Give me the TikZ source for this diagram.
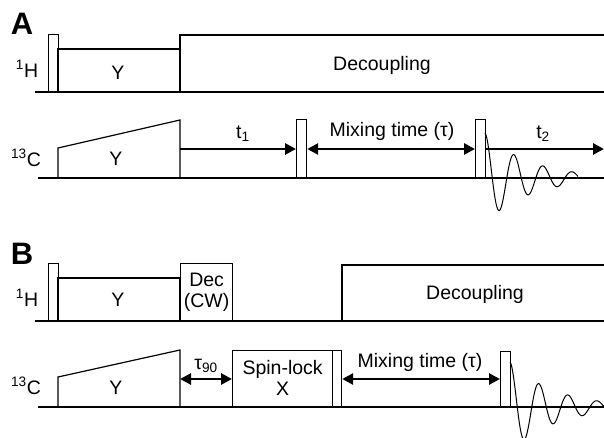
\documentclass[tikz,border=0pt]{standalone}
\usepackage{fontspec}
\setmainfont{Liberation Sans}
\usetikzlibrary{arrows.meta,positioning}

\begin{document}
\begin{tikzpicture}[x=1pt, y=-1pt,
    seq/.style={line width=1.2pt},
    pulse/.style={draw, line width=1.2pt, fill=white, inner sep=0pt, minimum width=10pt, anchor=south west},
    delay/.style={line width=2.7pt, -{Triangle[length=11pt,width=11pt]}},
    twoway/.style={line width=2.7pt, {Triangle[length=11pt,width=11pt]}-{Triangle[length=11pt,width=11pt]}},
    label/.style={font=\fontsize{19.5}{21}\selectfont, inner sep=0pt},
    panel/.style={font=\fontsize{31}{31}\selectfont\bfseries, inner sep=0pt},
    fid/.style={line width=1pt}
]
    \useasboundingbox (0,0) rectangle (604,438);

    % Panel A
    \node[panel] (pa) at (22,24) {A};
    \node[label] (ha) at (27,69) {\textsuperscript{1}H};
    \node[label] (ca) at (26,158) {\textsuperscript{13}C};

    % 1H channel
    \draw[seq] (35,92) -- (604,92);
    \node[pulse, minimum height=57pt] (pa1) at (48,92) {};
    \draw[seq] (58,92) -- (58,49) -- (180,49) -- (180,92);
    \node[label] (ya) at (118,73) {Y};
    \draw[seq] (180,92) -- (180,35) -- (604,35);
    \node[label] (deca) at (382,65) {Decoupling};

    % 13C channel
    \draw[seq] (38,178) -- (604,178);
    \draw[seq] (58,178) -- (58,148) -- (180,120) -- (180,178);
    \node[label] (yca) at (116,159) {Y};
    \node[pulse, minimum height=58pt] (pa2) at (296,178) {};
    \node[pulse, minimum height=58pt] (pa3) at (475,178) {};
    \coordinate (t1s) at (180,149);
    \coordinate (t2e) at (604,149);
    \draw[delay] (t1s) -- (pa2.west |- t1s);
    \draw[twoway] (pa2.east |- t1s) -- (pa3.west |- t1s);
    \draw[delay] (pa3.east |- t1s) -- (t2e);
    \node[label] (t1a) at (243,134) {t\textsubscript{1}};
    \node[label] (mixa) at (392,131) {Mixing time (τ)};
    \node[label] (t2a) at (543,134) {t\textsubscript{2}};
    \coordinate (fida) at (485,178);
    \draw[fid, shift={(fida)}] plot[domain=0:93, samples=160]
        (\x, {-45*exp(-\x/44)*cos(12.4*\x)});

    % Panel B
    \node[panel] (pb) at (22,254) {B};
    \node[label] (hb) at (27,298) {\textsuperscript{1}H};
    \node[label] (cb) at (26,386) {\textsuperscript{13}C};

    % 1H channel
    \draw[seq] (35,321) -- (604,321);
    \node[pulse, minimum height=57pt] (pb1) at (48,321) {};
    \draw[seq] (58,321) -- (58,278) -- (180,278) -- (180,321);
    \node[label] (yb) at (118,300) {Y};
    \node[draw, line width=1.2pt, inner sep=0pt, minimum width=52pt, minimum height=57pt, anchor=south west,
          label, align=center] (cw) at (180,321) {Dec\\(CW)};
    \draw[seq] (342,321) -- (342,265) -- (604,265);
    \node[label] (decb) at (475,294) {Decoupling};

    % 13C channel
    \draw[seq] (38,407) -- (604,407);
    \draw[seq] (58,407) -- (58,377) -- (180,350) -- (180,407);
    \node[label] (ycb) at (116,388) {Y};
    \node[draw, line width=1.2pt, inner sep=0pt, minimum width=100pt, minimum height=56pt, anchor=south west,
          label, align=center] (lock) at (232,407) {Spin-lock\\X};
    \node[pulse, minimum height=56pt, minimum width=9pt] (pb2) at (332,407) {};
    \node[pulse, minimum height=55pt] (pb3) at (500,407) {};
    \coordinate (taus) at (180,379);
    \draw[twoway] (taus) -- (lock.west |- taus);
    \draw[twoway] (pb2.east |- taus) -- (pb3.west |- taus);
    \node[label] (taub) at (206,366) {τ\textsubscript{90}};
    \node[label] (mixb) at (420,362) {Mixing time (τ)};
    \coordinate (fidb) at (510,407);
    \draw[fid, shift={(fidb)}] plot[domain=0:94, samples=160]
        (\x, {-45*exp(-\x/44)*cos(12.4*\x)});
\end{tikzpicture}
\end{document}
